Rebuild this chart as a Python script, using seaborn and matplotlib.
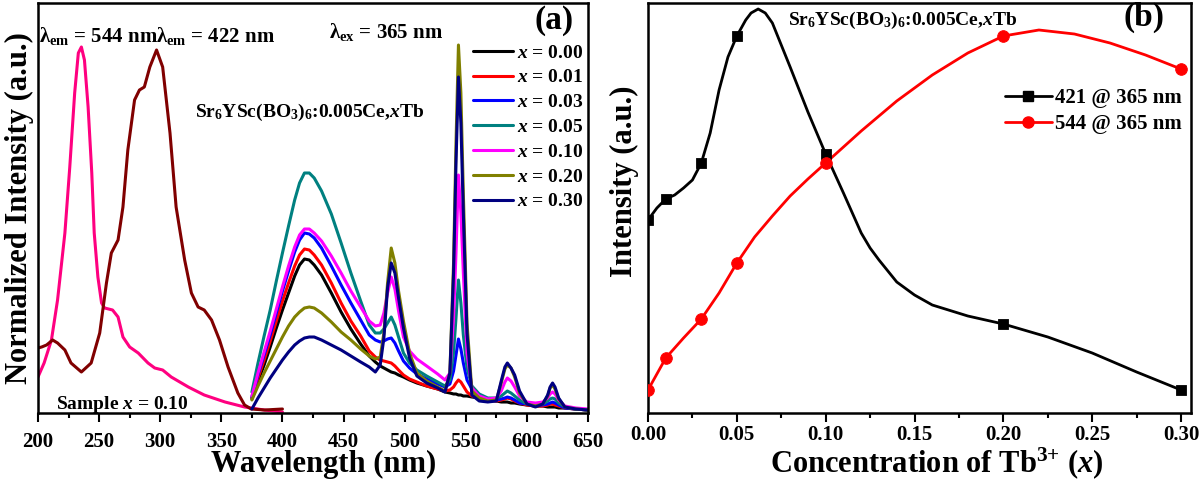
import matplotlib
matplotlib.use('Agg')
import matplotlib.pyplot as plt
import seaborn as sns
import pandas as pd
from matplotlib.lines import Line2D
from matplotlib.ticker import MultipleLocator, FormatStrFormatter

sns.set_style('ticks')
plt.rcParams['font.family'] = ['Liberation Serif', 'DejaVu Serif']
plt.rcParams['font.weight'] = 'bold'
plt.rcParams['axes.labelweight'] = 'bold'
plt.rcParams['mathtext.fontset'] = 'custom'
plt.rcParams['mathtext.rm'] = 'Liberation Serif:bold'
plt.rcParams['mathtext.it'] = 'Liberation Serif:italic:bold'
plt.rcParams['mathtext.bf'] = 'Liberation Serif:bold'
plt.rcParams['text.color'] = 'black'
plt.rcParams['axes.labelcolor'] = 'black'
plt.rcParams['xtick.color'] = 'black'
plt.rcParams['ytick.color'] = 'black'

# ---- panel (a): excitation spectra (heights, a.u.)
exc_nm_544 = [200, 205, 211, 216, 222, 226, 230, 233, 235.5, 238, 241, 244, 246, 249, 252,
              254.5, 261, 265.5, 269.5, 275, 282, 290, 295.5, 302, 309, 323, 336, 353, 369, 385, 400]
exc_544 = [36, 50, 73, 113, 180, 246, 320, 360, 366, 353, 306, 240, 180, 136, 110,
           105, 103, 96, 76, 66, 60, 50, 45, 43, 36, 26, 18, 11, 6, 3, 1]

exc_nm_422 = [200, 203, 207, 212, 216, 222, 227, 235.5, 243.5, 250.5, 256, 260, 265.5, 269.5, 273.5,
              279, 283, 287, 291.5, 297, 302, 308, 313, 320, 325.5, 331, 336, 342, 348.5, 355.5,
              363.5, 369, 374.5, 385.5, 400]
exc_422 = [65, 66, 68, 73, 70, 63, 50, 41, 50, 80, 130, 160, 173, 206, 263,
           313, 323, 326, 346, 363, 346, 280, 206, 153, 120, 106, 103, 93, 73, 46,
           20, 8, 4, 3, 4]

# ---- panel (a): emission spectra under 365 nm excitation
em_nm = [375, 380, 385, 390, 395, 400, 405, 410, 414, 418, 422, 426, 432, 440, 448,
         456, 464, 471, 476, 480, 483, 486, 489, 492, 495, 499, 504, 510, 518, 527,
         533, 537, 540, 542, 544, 546, 548, 551, 555, 561, 568, 575, 579, 582, 584,
         587, 590, 594, 600, 607, 613, 617, 619, 621, 623, 626, 631, 640, 650]
em_000 = [14, 32, 48, 66, 85, 103, 120, 137, 148, 154, 153, 148, 138, 120, 101,
          84, 69, 57, 51, 47, 45, 43, 41, 40, 38, 36, 33, 30, 27, 24,
          21, 20, 19, 19, 18, 18, 17, 17, 16, 15, 13, 12, 11, 11, 11,
          10, 10, 9, 8, 7, 7, 6, 6, 6, 6, 5, 5, 4, 3]
em_001 = [15, 35, 53, 72, 92, 112, 130, 147, 158, 164, 163, 158, 148, 130, 110,
          92, 77, 62, 56, 53, 52, 51, 50, 47, 43, 38, 34, 31, 27, 24,
          22, 23, 26, 30, 33, 31, 27, 21, 17, 15, 13, 12, 13, 14, 15,
          14, 12, 10, 8, 7, 7, 8, 9, 9, 8, 7, 5, 4, 3]
em_003 = [16, 38, 58, 78, 100, 122, 142, 161, 173, 180, 179, 175, 165, 147, 128,
          110, 93, 78, 73, 71, 72, 74, 75, 70, 62, 52, 45, 39, 34, 29,
          26, 29, 42, 58, 74, 64, 50, 33, 24, 18, 14, 13, 14, 15, 16,
          15, 13, 10, 9, 8, 8, 9, 10, 11, 10, 8, 5, 4, 3]
em_005 = [21, 50, 77, 103, 132, 160, 187, 213, 230, 240, 240, 235, 222, 199, 170,
          140, 112, 88, 80, 80, 84, 90, 96, 88, 76, 60, 50, 43, 37, 31,
          27, 33, 60, 95, 133, 110, 78, 45, 27, 19, 15, 15, 17, 20, 22,
          20, 17, 13, 9, 8, 9, 12, 14, 15, 14, 10, 6, 4, 3]
em_010 = [17, 40, 61, 82, 104, 126, 147, 166, 178, 184, 184, 180, 172, 157, 140,
          122, 106, 92, 87, 88, 100, 120, 136, 124, 102, 76, 62, 54, 47, 39,
          33, 40, 95, 160, 238, 200, 140, 60, 25, 17, 14, 15, 22, 31, 35,
          32, 26, 17, 11, 10, 11, 15, 19, 21, 19, 13, 7, 5, 4]
em_020 = [13, 27, 40, 52, 64, 76, 87, 96, 101, 105, 106, 105, 100, 91, 81,
          73, 64, 57, 54, 56, 80, 130, 165, 150, 122, 92, 60, 40, 32, 26,
          22, 40, 150, 270, 368, 320, 220, 90, 22, 15, 12, 13, 30, 44, 48,
          45, 36, 20, 9, 7, 9, 17, 25, 28, 24, 14, 6, 4, 3]
em_030 = [4, 15, 25, 35, 44, 53, 61, 68, 72, 75, 76, 76, 73, 68, 63,
          57, 51, 46, 41, 48, 75, 125, 150, 140, 115, 85, 55, 37, 30, 25,
          21, 40, 140, 250, 336, 290, 200, 80, 18, 12, 11, 12, 32, 46, 50,
          45, 38, 22, 9, 6, 9, 18, 26, 30, 26, 15, 6, 4, 3]
tb_labels = ['0.00', '0.01', '0.03', '0.05', '0.10', '0.20', '0.30']
tb_colors = ['#000000', '#FF0000', '#0000FF', '#008080', '#FF00FF', '#808000', '#000080']

# ---- panel (b): intensity vs Tb concentration
conc = [0.00, 0.01, 0.03, 0.05, 0.10, 0.20, 0.30]
int_421 = [193, 214, 250, 377, 259, 89, 23]
int_544 = [23, 55, 94, 150, 250, 377, 344]
# smoothed connecting curves as drawn in the figure
curve_x_421 = [0.000, 0.005, 0.010, 0.015, 0.020, 0.025, 0.030, 0.035, 0.040, 0.045,
               0.050, 0.055, 0.058, 0.062, 0.066, 0.070, 0.080, 0.090, 0.100, 0.110,
               0.115, 0.120, 0.125, 0.130, 0.140, 0.150, 0.160, 0.180, 0.200, 0.225,
               0.250, 0.275, 0.300]
curve_421 = [193, 205, 214, 218, 225, 233, 250, 280, 323, 356,
             377, 393, 400, 404, 400, 390, 346, 301, 259, 220,
             200, 180, 165, 153, 131, 118, 108, 97, 89, 76,
             60, 41, 23]
curve_x_544 = [0.00, 0.01, 0.02, 0.03, 0.04, 0.05, 0.06, 0.07, 0.08, 0.09, 0.10,
               0.12, 0.14, 0.16, 0.18, 0.20, 0.22, 0.24, 0.26, 0.28, 0.30]
curve_544 = [23, 55, 75, 94, 120, 150, 176, 197, 217, 234, 250,
             282, 312, 338, 360, 377, 383, 379, 370, 358, 344]

fig = plt.figure(figsize=(12, 4.79), dpi=100)
axa = fig.add_axes([38 / 1200, 66 / 479, 550 / 1200, 410 / 479])
axb = fig.add_axes([648 / 1200, 66 / 479, 543 / 1200, 410 / 479])

# panel (a)
sns.lineplot(x=exc_nm_544, y=exc_544, color='#FF0080', linewidth=2.2, ax=axa)
sns.lineplot(x=exc_nm_422, y=exc_422, color='#800000', linewidth=2.2, ax=axa)

df_em = pd.concat([pd.DataFrame({'nm': em_nm, 'h': v, 'x': lab})
                   for lab, v in zip(tb_labels, [em_000, em_001, em_003, em_005,
                                                 em_010, em_020, em_030])])
sns.lineplot(data=df_em, x='nm', y='h', hue='x', hue_order=tb_labels,
             palette=dict(zip(tb_labels, tb_colors)), linewidth=2.2,
             errorbar=None, legend=False, ax=axa)

axa.set_xlim(200, 650)
axa.set_ylim(0, 410)
axa.xaxis.set_major_locator(MultipleLocator(50))
axa.xaxis.set_minor_locator(MultipleLocator(25))
axa.tick_params(axis='x', which='major', direction='out', length=6.5, width=1.5,
                labelsize=15, pad=7)
axa.tick_params(axis='x', which='minor', direction='out', length=3.5, width=1.5)
axa.tick_params(axis='y', left=False, labelleft=False)
axa.set_xlabel('Wavelength (nm)', fontsize=22)
axa.xaxis.set_label_coords(0.52, -0.09)
axa.set_ylabel('Normalized Intensity (a.u.)', fontsize=22)
axa.yaxis.set_label_coords(-0.008, 0.5)

axa.text(200.5, 371, r'$\mathrm{\lambda}_{\rm em}$ = 544 nm', fontsize=15, va='baseline')
axa.text(296.5, 371, r'$\mathrm{\lambda}_{\rm em}$ = 422 nm', fontsize=15, va='baseline')
axa.text(438, 375, r'$\mathrm{\lambda}_{\rm ex}$ = 365 nm', fontsize=15, va='baseline')
axa.text(328.5, 296, r'Sr$_6$YSc(BO$_3$)$_6$:0.005Ce,$x$Tb', fontsize=14, va='baseline')
axa.text(214.7, 4, r'Sample $x$ = 0.10', fontsize=14, va='baseline')
axa.text(622, 393, '(a)', fontsize=24, ha='center', va='center')

handles_a = [Line2D([0], [0], color=c, lw=2.2) for c in tb_colors]
axa.legend(handles_a, [r'$x$ = ' + lab for lab in tb_labels], loc='upper left',
           bbox_to_anchor=(0.791, 0.9), borderaxespad=0, borderpad=0, frameon=False,
           fontsize=14, handlelength=2.06, handletextpad=0.2, labelspacing=0.37)

# panel (b)
sns.lineplot(x=curve_x_421, y=curve_421, color='black', linewidth=2, ax=axb)
sns.lineplot(x=curve_x_544, y=curve_544, color='#FF0000', linewidth=2, ax=axb)
sns.scatterplot(x=conc, y=int_421, marker='s', color='black', edgecolor='black',
                s=55, ax=axb, zorder=3)
sns.scatterplot(x=conc, y=int_544, marker='o', color='#FF0000', edgecolor='#FF0000',
                s=70, ax=axb, zorder=3)

axb.set_xlim(0, 0.3056)
axb.set_ylim(0, 410)
axb.xaxis.set_major_locator(MultipleLocator(0.05))
axb.xaxis.set_minor_locator(MultipleLocator(0.025))
axb.xaxis.set_major_formatter(FormatStrFormatter('%.2f'))
axb.tick_params(axis='x', which='major', direction='out', length=6.5, width=1.5,
                labelsize=15, pad=2)
axb.tick_params(axis='x', which='minor', direction='out', length=3.5, width=1.5)
axb.tick_params(axis='y', left=False, labelleft=False)
axb.set_xlabel(r'Concentration of Tb$^{3{+}}$ ($x$)', fontsize=22)
axb.xaxis.set_label_coords(0.532, -0.078)
axb.set_ylabel('Intensity (a.u.)', fontsize=22)
axb.yaxis.set_label_coords(-0.017, 0.566)

axb.text(0.0788, 388, r'Sr$_6$YSc(BO$_3$)$_6$:0.005Ce,$x$Tb', fontsize=14, va='baseline')
axb.text(0.279, 396, '(b)', fontsize=24, ha='center', va='center')

handles_b = [Line2D([0], [0], color='black', lw=2, marker='s', ms=7),
             Line2D([0], [0], color='#FF0000', lw=2, marker='o', ms=8)]
axb.legend(handles_b, ['421 @ 365 nm', '544 @ 365 nm'], loc='upper left',
           bbox_to_anchor=(0.657, 0.793), borderaxespad=0, borderpad=0, frameon=False,
           fontsize=15, handlelength=2.26, handletextpad=0.15, labelspacing=0.3)

for ax in (axa, axb):
    for sp in ax.spines.values():
        sp.set_visible(True)
        sp.set_linewidth(1.8)
        sp.set_color('black')

fig.savefig('out.png', dpi=100)
